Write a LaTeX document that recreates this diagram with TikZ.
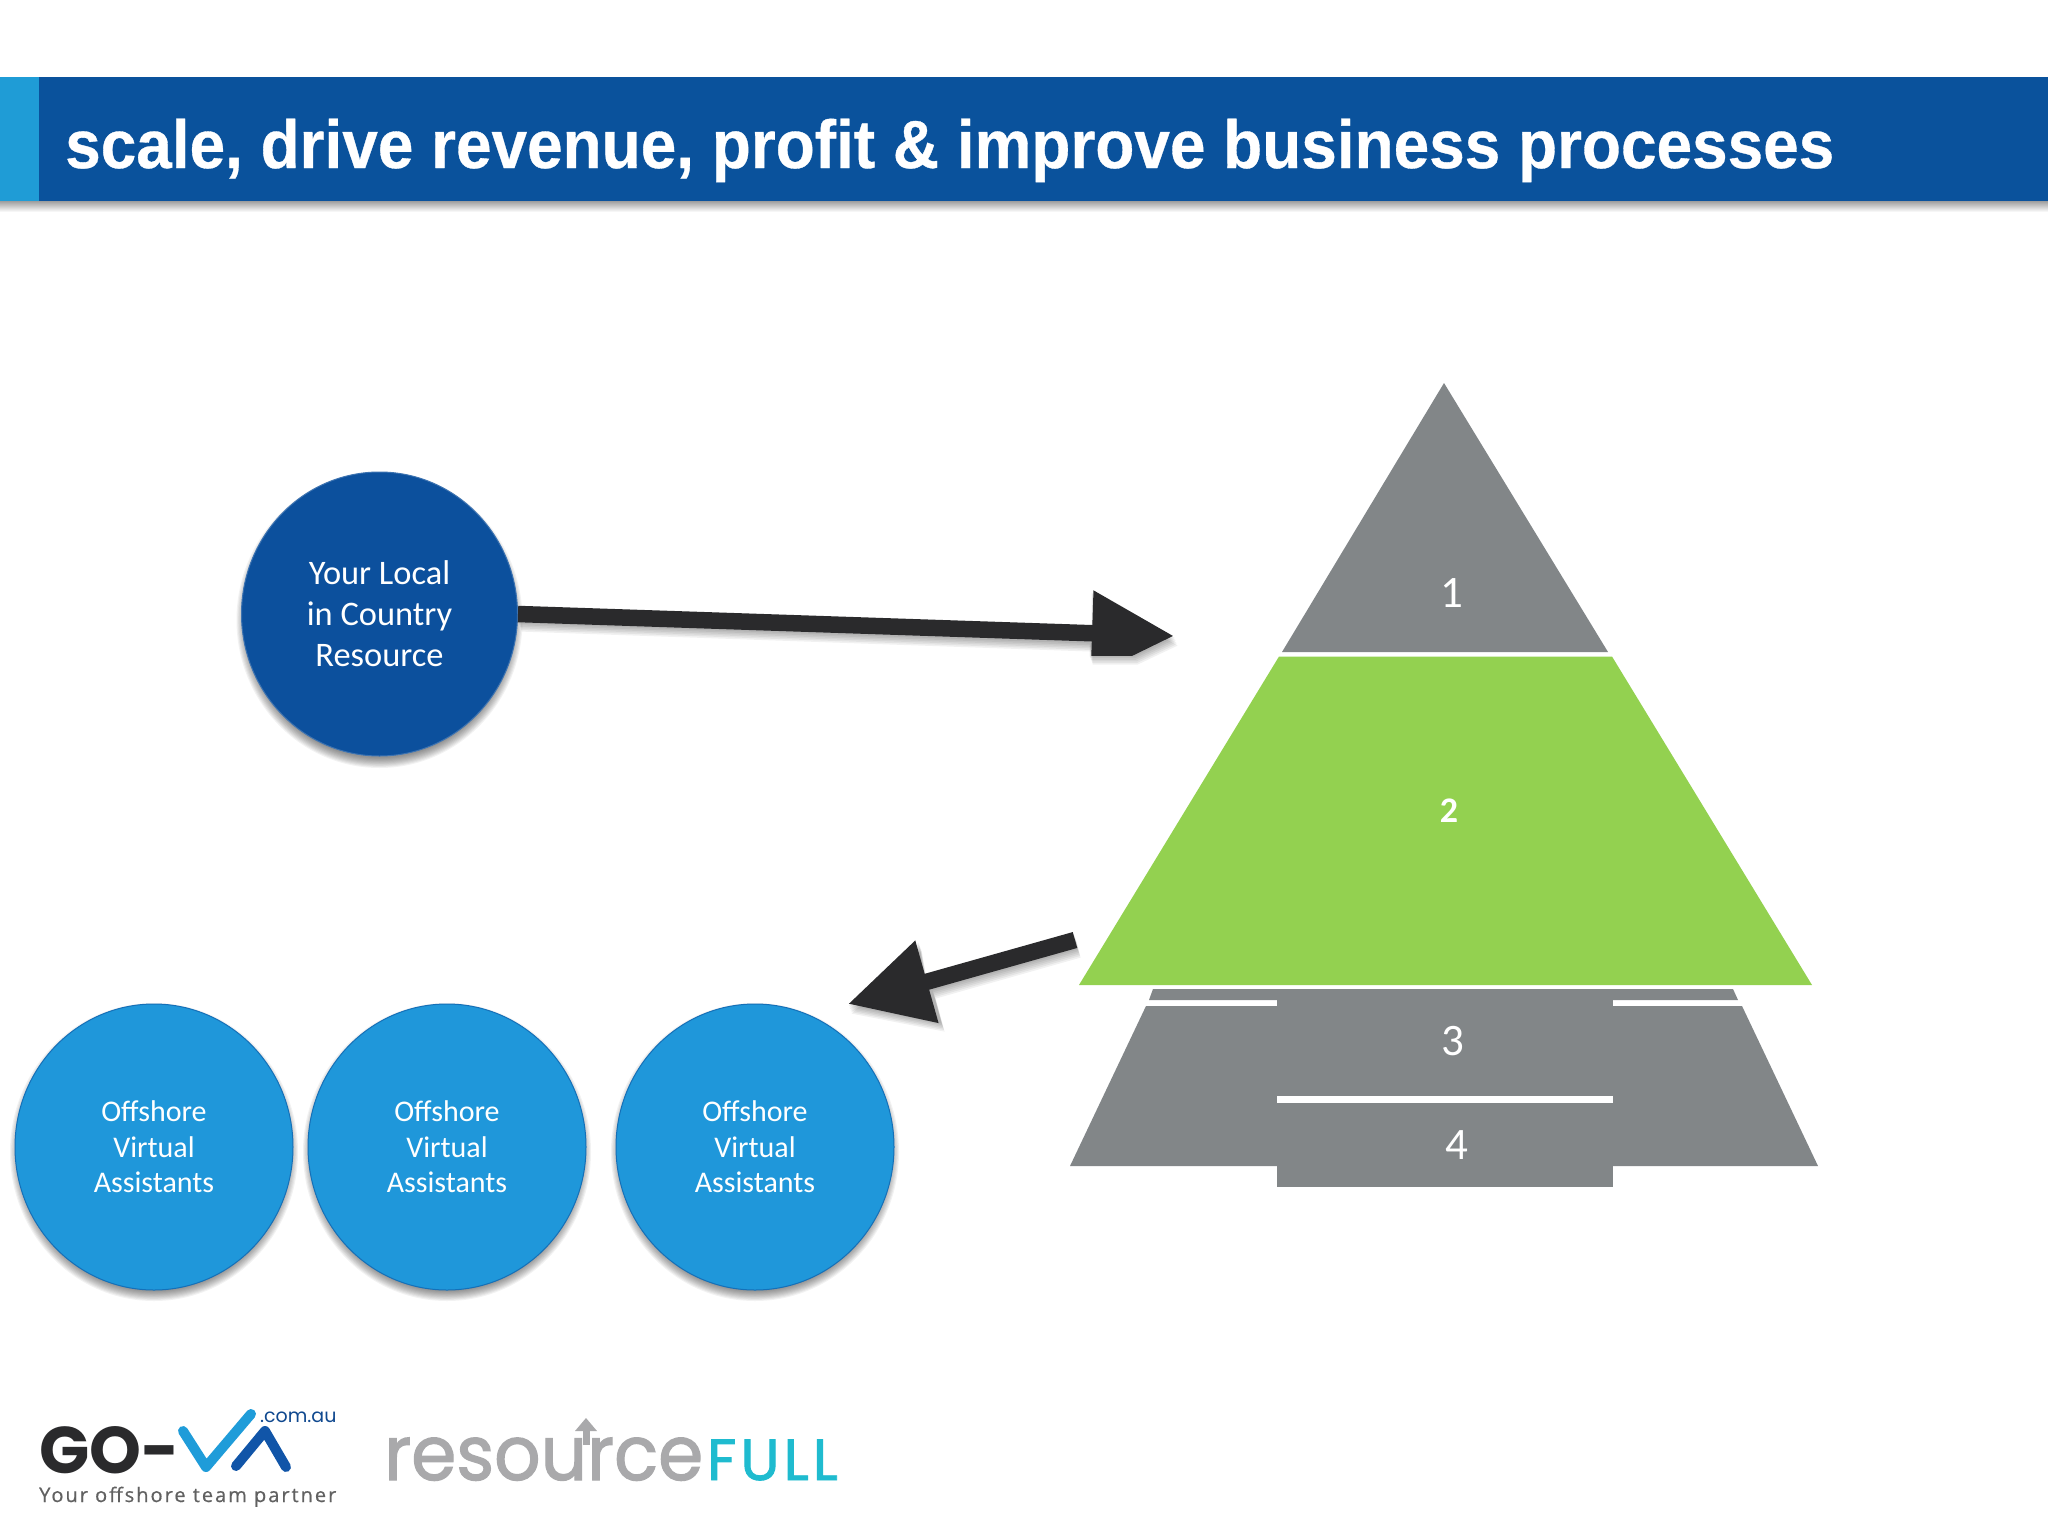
\documentclass[tikz,border=0pt]{standalone}
\usepackage{fontspec}
\usetikzlibrary{arrows.meta,shapes.geometric}
\setmainfont{Carlito}
\newfontfamily\titlefont[BoldFeatures={FakeBold=0.5}]{Liberation Sans}
\newfontfamily\logofont{Poppins}
\newfontfamily\rffont[FakeBold=1.6]{Poppins}
\newfontfamily\rfullfont[FakeBold=1.6,LetterSpace=7]{Poppins}
\newfontfamily\tagfont[LetterSpace=10,FakeBold=0.6]{Open Sans}
\definecolor{hdrdark}{HTML}{0A529C}
\definecolor{hdrlight}{HTML}{1F9CD6}
\definecolor{circdark}{HTML}{0C509D}
\definecolor{circlight}{HTML}{1F97DA}
\definecolor{pygreen}{HTML}{93D150}
\definecolor{pygray}{HTML}{828688}
\definecolor{arrowdark}{HTML}{2A2A2C}
\definecolor{vablue}{HTML}{1F9CD9}
\definecolor{vadark}{HTML}{1155A8}
\definecolor{rfgray}{HTML}{A9A9AB}
\definecolor{rfteal}{HTML}{1FBBCF}
\tikzset{
  localcircle/.style={ellipse,fill=circdark,draw=circdark!80!white,line width=1pt,inner sep=0pt,
    minimum width=276pt,minimum height=284pt,text=white,align=center,font=\fontsize{34.4}{41}\selectfont},
  offcircle/.style={ellipse,fill=circlight,draw=circdark!55!circlight,line width=1pt,inner sep=0pt,
    minimum width=278pt,minimum height=286pt,text=white,align=center,font=\fontsize{30}{35.5}\selectfont},
  pynum/.style={text=white,inner sep=0pt,anchor=base,font=\fontsize{45}{45}\selectfont},
  blockarrow/.style={draw=arrowdark,line width=16.5pt,-{Triangle[length=82pt,width=81pt,fill=arrowdark]}},
  softshade/.style={black,opacity=.05},
  softarrow/.style={black,opacity=.055},
}
\newcommand{\softcircle}[4]{%
  \foreach \d in {0,...,9}{\fill[softshade] (#1,#2+6) ellipse [x radius=#3+5-\d*1.1,y radius=#4+6-\d*1.1];}}
\begin{document}
\begin{tikzpicture}[x=1pt,y=-1pt]
\useasboundingbox (0,0) rectangle (2048,1536);
\fill[white] (0,0) rectangle (2048,1536);
% header
\shade[top color=black!38,bottom color=white] (0,201) rectangle (2048,212);
\fill[hdrdark] (39,77) rectangle (2048,201);
\fill[hdrlight] (0,77) rectangle (39,201);
\node[anchor=base west,inner sep=0pt,text=white,font=\titlefont\bfseries\fontsize{68}{68}\selectfont] (title) at (65,168)
  {\scalebox{0.94}[1]{scale, drive revenue, profit \& improve business processes}};
% circle shadows
\softcircle{379.5}{614}{138}{142}
\softcircle{154}{1146}{139}{143}
\softcircle{447}{1146}{139}{143}
\softcircle{755}{1146}{139}{143}
% arrow shadows
\foreach \d in {1,...,6}{
  \fill[softarrow,shift={(\d*0.6,\d*1.6)}] (518,605) -- (1091,625) -- (1091,591) -- (1174,636) -- (1134,655) -- (1089,655) -- (1089,642) -- (518,622) -- cycle;
  \fill[softarrow,shift={(\d*0.6,\d*1.6)}] (1073,932) -- (924,975) -- (918,941) -- (848,1004) -- (941,1022) -- (932,989) -- (1077,948) -- cycle;
}
% circles
\node[localcircle] (local) at (379.5,614) {Your Local\\in Country\\Resource};
\node[offcircle] (off1) at (154,1147) {Offshore\\Virtual\\Assistants};
\node[offcircle] (off2) at (447,1147) {Offshore\\Virtual\\Assistants};
\node[offcircle] (off3) at (755,1147) {Offshore\\Virtual\\Assistants};
% pyramid
\fill[pygray] (1444,383) -- (1608,652) -- (1282,652) -- cycle;
\fill[pygreen] (1279,656.5) -- (1612,656.5) -- (1812,985) -- (1079,985) -- cycle;
\fill[pygray] (1153,989) -- (1733,989) -- (1738,1000) -- (1149,1000) -- cycle;
\fill[pygray] (1146,1006) -- (1742,1006) -- (1818,1166) -- (1070,1166) -- cycle;
\fill[pygray] (1277,990) rectangle (1613,1187);
\fill[white] (1277,1096) rectangle (1613,1103);
\node[pynum] (n1) at (1452,607) {1};
\node[pynum,font=\bfseries\fontsize{36}{36}\selectfont] (n2) at (1449,822) {2};
\node[pynum] (n3) at (1453,1055) {3};
\node[pynum] (n4) at (1457,1159) {4};
% arrows
\coordinate (tipA) at (1174,636);
\begin{scope}
  \clip (0,0) rectangle (2048,655);
  \draw[blockarrow] (local.east) -- (tipA);
\end{scope}
\coordinate (startB) at (1075,940);
\coordinate (tipB) at (848,1004);
\draw[blockarrow] (startB) -- (tipB);
% GO-VA logo
\node[anchor=base west,inner sep=0pt,text=arrowdark,font=\logofont\bfseries\fontsize{66}{66}\selectfont] (govatext) at (39,1473) {GO-};
\draw[vablue,line width=10pt,line cap=round,line join=round] (183,1431) -- (206,1467) -- (251,1414);
\draw[vadark,line width=10pt,line cap=round,line join=round] (236,1466) -- (265,1431) -- (286,1467);
\node[anchor=base west,inner sep=0pt,text=vadark!85!black,font=\logofont\fontsize{19}{19}\selectfont] (comau) at (260,1422) {.com.au};
\node[anchor=base west,inner sep=0pt,text=black!62,font=\tagfont\fontsize{20}{20}\selectfont] (tagline) at (39,1502) {Your offshore team partner};
% resourceFULL logo
\node[anchor=base west,inner sep=0pt,text=rfgray,font=\rffont\fontsize{76}{76}\selectfont] (rftext) at (384,1480) {\scalebox{0.955}[1]{resource}};
\node[anchor=base west,inner sep=0pt,text=rfteal,font=\rfullfont\fontsize{58}{58}\selectfont] (fulltext) at (707,1480) {FULL};
\draw[rfgray,line width=7pt] (586,1445) -- (586,1428);
\fill[rfgray] (586,1418) -- (597,1431) -- (575,1431) -- cycle;
\end{tikzpicture}
\end{document}
